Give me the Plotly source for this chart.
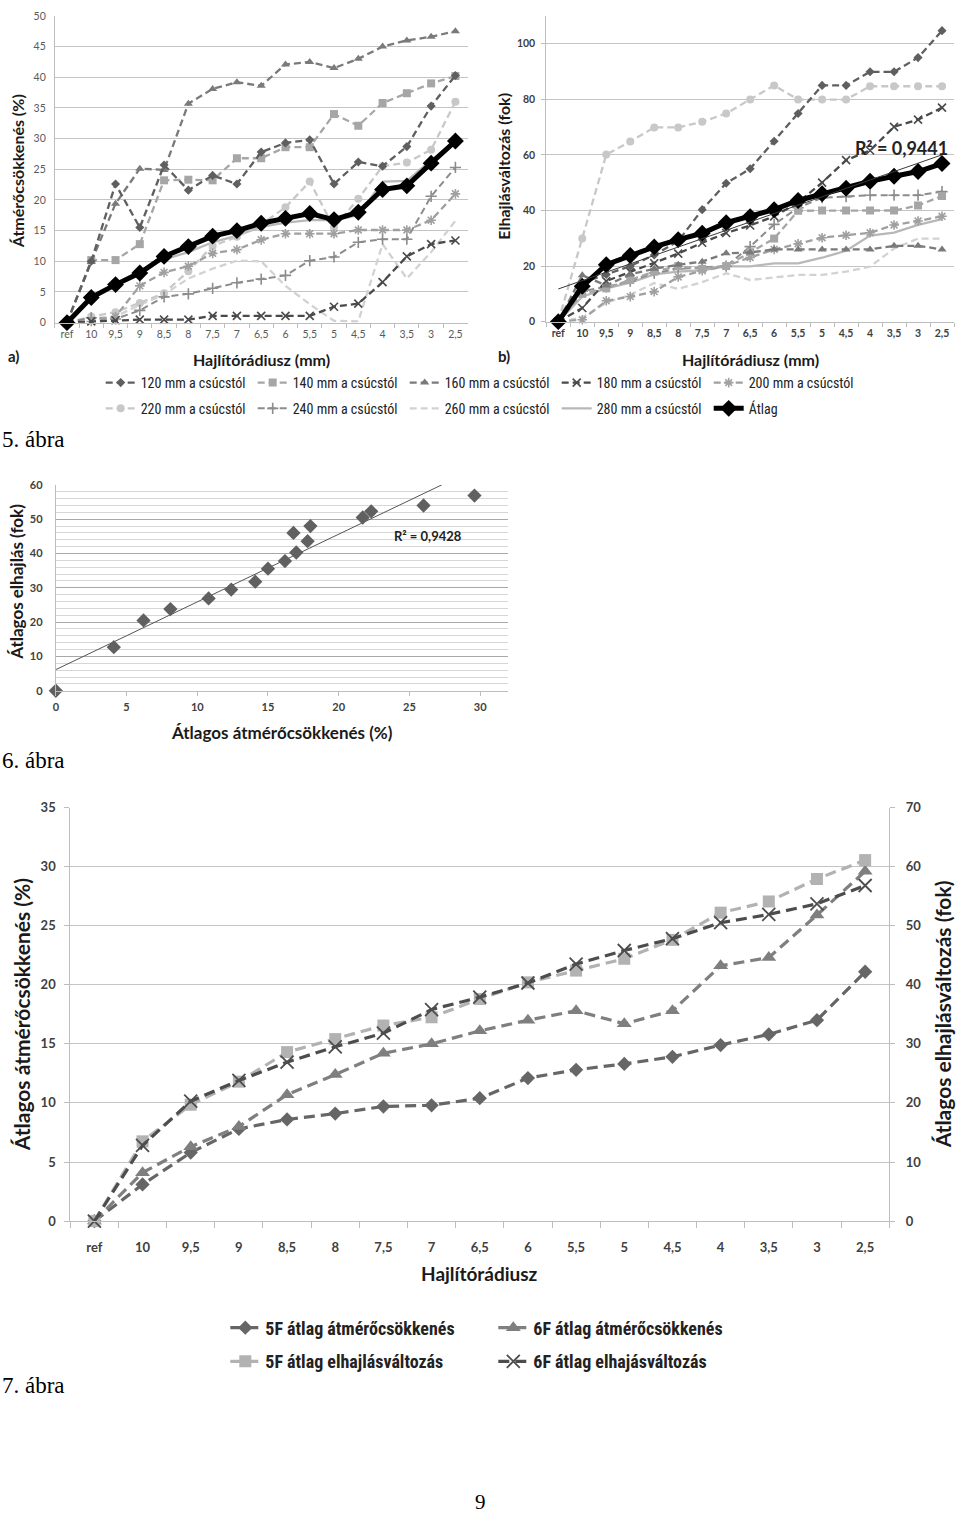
import numpy as np
import plotly.graph_objects as go

W, H = 960, 1521

def X(px):
    return px / W

def Y(py):
    return 1 - py / H

# ---------------- data ----------------
cats = ["ref", "10", "9,5", "9", "8,5", "8", "7,5", "7", "6,5", "6",
        "5,5", "5", "4,5", "4", "3,5", "3", "2,5"]

series_names = ["120 mm a csúcstól", "140 mm a csúcstól", "160 mm a csúcstól",
                "180 mm a csúcstól", "200 mm a csúcstól", "220 mm a csúcstól",
                "240 mm a csúcstól", "260 mm a csúcstól", "280 mm a csúcstól", "Átlag"]

# 5a) diameter reduction (%)
a_120 = [0, 10.0, 22.6, 15.5, 25.7, 21.6, 24.0, 22.6, 27.8, 29.3, 29.8, 22.6, 26.2, 25.5, 28.7, 35.3, 40.3]
a_140 = [0, 10.2, 10.2, 12.8, 23.2, 23.3, 23.2, 26.8, 26.8, 28.6, 28.6, 34.0, 32.1, 35.8, 37.4, 39.0, 40.2]
a_160 = [0, 9.9, 19.4, 25.1, 24.9, 35.7, 38.1, 39.2, 38.6, 42.1, 42.5, 41.5, 43.0, 45.0, 46.0, 46.6, 47.5]
a_180 = [0, 0.2, 0.4, 0.5, 0.5, 0.5, 1.1, 1.1, 1.1, 1.1, 1.1, 2.6, 3.1, 6.6, 10.8, 12.8, 13.4]
a_200 = [0, 0.2, 1.0, 6.0, 8.2, 9.2, 11.3, 11.9, 13.5, 14.5, 14.5, 14.5, 15.1, 15.1, 15.1, 16.7, 21.0]
a_220 = [0, 1.0, 1.7, 3.2, 4.8, 8.4, 12.5, 14.0, 16.0, 18.8, 23.0, 15.5, 20.2, 25.5, 26.1, 28.2, 36.0]
a_240 = [0, 0.8, 0.6, 2.0, 4.2, 4.7, 5.6, 6.5, 7.1, 7.7, 10.1, 10.7, 13.1, 13.6, 13.6, 20.6, 25.3]
a_260 = [0, 0.7, 1.0, 2.9, 4.6, 7.2, 8.8, 10.1, 10.0, 6.0, 3.0, 0.3, 0.2, 12.8, 7.2, 11.5, 16.6]
a_280 = [0, 4.0, 6.3, 8.5, 10.3, 11.5, 13.1, 14.2, 15.6, 16.3, 16.7, 16.7, 17.5, 23.0, 23.1, 26.5, 29.5]
a_avg = [0, 4.1, 6.2, 8.1, 10.8, 12.4, 14.1, 15.0, 16.2, 17.0, 17.8, 16.8, 18.0, 21.7, 22.3, 26.0, 29.6]

# 5b) deflection change (fok)
b_120 = [0, 14, 17, 20, 24, 29, 40.3, 49.8, 55.0, 64.9, 74.9, 85.0, 85.0, 89.9, 89.9, 95.0, 104.7]
b_140 = [0, 10, 12, 15, 18, 20, 19, 20, 25, 29.9, 39.9, 40, 40, 40, 40, 41.8, 45.2]
b_160 = [0, 16.7, 13, 17, 19, 20.5, 21.6, 24.6, 24.9, 26, 26, 26, 26, 26, 27.3, 27.3, 26]
b_180 = [0, 4.9, 14.6, 17.9, 21, 24.5, 28.4, 31.9, 34.6, 37.9, 42.9, 50.0, 58.1, 61.6, 70.1, 72.7, 77.0]
b_200 = [0, 0.7, 7.5, 9.0, 10.8, 16.1, 18.3, 20.1, 23.1, 26.0, 28.0, 30.2, 31.1, 32.0, 34.8, 36.2, 37.9]
b_220 = [0, 29.9, 60.1, 64.8, 69.9, 69.9, 71.9, 74.9, 79.9, 85.0, 79.9, 79.9, 79.9, 84.7, 84.7, 84.7, 84.7]
b_240 = [0, 11, 12.5, 14.6, 17.5, 19, 19.5, 20, 27, 35, 41, 44.6, 45, 45.5, 45.5, 45.5, 46.8]
b_260 = [0, 1.5, 6.8, 9.7, 13.9, 11.8, 14.2, 17.4, 15.0, 15.9, 16.8, 16.8, 18.0, 19.8, 26.3, 29.9, 29.9]
b_280 = [0, 9, 12, 14, 17, 18, 18.5, 19.9, 19.9, 21, 21, 23, 25.5, 31, 32, 34.8, 36.9]
b_avg = [0, 12.7, 20.5, 23.8, 26.9, 29.5, 31.8, 35.6, 37.8, 40.3, 43.6, 46.0, 48.0, 50.5, 52.3, 54.0, 56.9]

r2_5b = "R² = 0,9441"
r2_6 = "R² = 0,9428"

# 7) averages
c_5f_atm = [0, 3.1, 5.8, 7.8, 8.6, 9.1, 9.7, 9.8, 10.4, 12.1, 12.8, 13.3, 13.9, 14.9, 15.8, 17.0, 21.1]
c_6f_atm = [0, 4.1, 6.3, 8.0, 10.7, 12.4, 14.2, 15.0, 16.1, 17.0, 17.8, 16.7, 17.8, 21.6, 22.3, 25.9, 29.6]
c_5f_elh = [0, 13.5, 19.7, 23.6, 28.6, 30.8, 33.1, 34.5, 37.6, 40.4, 42.4, 44.4, 47.6, 52.2, 54.1, 57.9, 61.1]
c_6f_elh = [0, 12.8, 20.3, 23.8, 26.9, 29.5, 31.8, 35.8, 37.9, 40.3, 43.5, 45.8, 47.8, 50.5, 51.9, 53.7, 56.8]
c_names = ["5F átlag átmérőcsökkenés", "6F átlag átmérőcsökkenés",
           "5F átlag elhajlásváltozás", "6F átlag elhajásváltozás"]

# ---------------- styles ----------------
FONT = "Lato, 'Open Sans', sans-serif"
NARROW = "'Liberation Sans Narrow', 'Roboto Condensed', Lato, sans-serif"
SERIF = "'Liberation Serif', 'DejaVu Serif', serif"

styles5 = [  # color, symbol, size, dash, width
    ("#5f5f5f", "diamond", 7, "7px,4px", 2.3),
    ("#a6a6a6", "square", 8, "7px,4px", 2.3),
    ("#7a7a7a", "triangle-up", 8, "7px,4px", 2.3),
    ("#4a4a4a", "x-thin-open", 8, "7px,4px", 2.3),
    ("#a0a0a0", "asterisk-open", 8, "7px,4px", 2.3),
    ("#c8c8c8", "circle", 8, "7px,4px", 2.3),
    ("#8c8c8c", "cross-thin-open", 8, "7px,4px", 2.0),
    ("#d2d2d2", None, 0, "7px,4px", 2.3),
    ("#b8b8b8", None, 0, "solid", 2.3),
    ("#000000", "diamond", 13, "solid", 5),
]

fig = go.Figure()

a_data = [a_120, a_140, a_160, a_180, a_200, a_220, a_240, a_260, a_280, a_avg]
b_data = [b_120, b_140, b_160, b_180, b_200, b_220, b_240, b_260, b_280, b_avg]


def add_series(vals, xa, ya, i, showlegend):
    color, sym, size, dash, lw = styles5[i]
    mode = "lines+markers" if sym else "lines"
    marker = None
    if sym:
        marker = dict(symbol=sym, size=size, color=color,
                      line=dict(color=color, width=1.6 if "open" in sym else 0))
    fig.add_trace(go.Scatter(
        x=cats, y=vals, xaxis=xa, yaxis=ya, mode=mode, name=series_names[i],
        line=dict(color=color, width=lw, dash=dash), marker=marker,
        showlegend=showlegend, legend="legend" if i < 5 else "legend2",
        legendrank=i, cliponaxis=False))


order = [7, 8, 5, 6, 4, 3, 1, 2, 0, 9]
for i in order:
    add_series(a_data[i], "x", "y", i, True)
for i in order:
    add_series(b_data[i], "x2", "y2", i, False)

# trendline 5b (linear fit on category index 1..17)
idx = np.arange(1, len(cats) + 1)
k5, c5 = np.polyfit(idx, b_avg, 1)
fig.add_trace(go.Scatter(x=cats, y=k5 * idx + c5, xaxis="x2", yaxis="y2", mode="lines",
                         line=dict(color="#3a3a3a", width=1), showlegend=False,
                         hoverinfo="skip"))

# ---------------- figure 6 ----------------
k6, c6 = np.polyfit(a_avg, b_avg, 1)
xs6 = np.array([0, 32])
fig.add_trace(go.Scatter(x=xs6, y=k6 * xs6 + c6, xaxis="x3", yaxis="y3", mode="lines",
                         line=dict(color="#555555", width=1), showlegend=False,
                         hoverinfo="skip"))
fig.add_trace(go.Scatter(x=a_avg, y=b_avg, xaxis="x3", yaxis="y3", mode="markers",
                         marker=dict(symbol="diamond", size=11, color="#606060"),
                         showlegend=False, cliponaxis=False))

# ---------------- figure 7 ----------------
styles7 = [
    (c_5f_atm, "y4", "#666666", "diamond", 11, "legend3"),
    (c_6f_atm, "y4", "#7f7f7f", "triangle-up", 13, "legend3"),
    (c_5f_elh, "y5", "#b2b2b2", "square", 12, "legend4"),
    (c_6f_elh, "y5", "#4d4d4d", "x-thin-open", 13, "legend4"),
]
for j, (vals, ya, color, sym, size, leg) in enumerate(styles7):
    fig.add_trace(go.Scatter(
        x=cats, y=vals, xaxis="x4", yaxis=ya, mode="lines+markers", name=c_names[j],
        line=dict(color=color, width=3.2, dash="11px,6px"),
        marker=dict(symbol=sym, size=size, color=color,
                    line=dict(color=color, width=1.8 if "open" in sym else 0)),
        legend=leg, cliponaxis=False))

# ---------------- axes ----------------
grid = "#c4c4c4"
axl = "#bdbdbd"
tick_small = dict(family=FONT, size=10.5, color="#5a5a5a")
tick_bold = dict(family=FONT, size=10.5, color="#404040", weight="bold")
tick7 = dict(family=FONT, size=13, color="#404040", weight="bold")

cat_x = dict(type="category", categoryorder="array", categoryarray=cats,
             range=[-0.5, len(cats) - 0.5], showgrid=False, showline=True, linecolor=axl,
             ticks="outside", tickson="boundaries", ticklen=4, tickcolor=axl,
             tickangle=0, zeroline=False, fixedrange=True)

layout = dict(
    width=W, height=H, margin=dict(l=0, r=0, t=0, b=0),
    paper_bgcolor="white", plot_bgcolor="white",
    font=dict(family=FONT, color="#333333"),
    hovermode=False,
    xaxis=dict(cat_x, domain=[X(52), X(466)], anchor="y", tickfont=tick_small,
               ticklabelstandoff=2),
    yaxis=dict(domain=[Y(318), Y(8)], anchor="x", range=[0, 50], dtick=5,
               gridcolor=grid, showline=True, linecolor=axl, zeroline=False,
               tickfont=tick_small, ticklabelstandoff=6),
    xaxis2=dict(cat_x, domain=[X(545), X(954)], anchor="y2", tickfont=tick_bold,
                ticklabelstandoff=2),
    yaxis2=dict(domain=[Y(317), Y(8)], anchor="x2", range=[0, 110], dtick=20,
                gridcolor=grid, showline=True, linecolor=axl, zeroline=False,
                tickfont=tick_bold, ticks="outside", ticklen=4, tickcolor=axl,
                ticklabelstandoff=4),
    xaxis3=dict(domain=[X(53), X(507)], anchor="y3", range=[0, 32], dtick=5,
                showgrid=False, showline=True, linecolor=axl, zeroline=False,
                ticks="outside", ticklen=4, tickcolor=axl, ticklabelstandoff=2,
                tickfont=dict(family=FONT, size=11, color="#404040", weight="bold")),
    yaxis3=dict(domain=[Y(690), Y(482)], anchor="x3", range=[0, 60], dtick=10,
                gridcolor="#a8a8a8", showline=True, linecolor=axl, zeroline=False,
                minor=dict(dtick=2, showgrid=True, gridcolor="#d6d6d6"),
                ticklabelstandoff=10,
                tickfont=dict(family=FONT, size=11, color="#404040", weight="bold")),
    xaxis4=dict(cat_x, domain=[X(67.5), X(889)], anchor="y4", ticklen=6,
                ticklabelstandoff=14, tickfont=tick7),
    yaxis4=dict(domain=[Y(1226), Y(808)], anchor="x4", range=[0, 35], dtick=5,
                gridcolor=grid, showline=True, linecolor=axl, zeroline=False,
                ticks="outside", ticklen=5, tickcolor=axl, ticklabelstandoff=6,
                tickfont=tick7),
    yaxis5=dict(overlaying="y4", anchor="x4", side="right", range=[0, 70], dtick=10,
                showgrid=False, showline=True, linecolor=axl, zeroline=False,
                ticks="outside", ticklen=5, tickcolor=axl, ticklabelstandoff=8,
                tickfont=tick7),
)

leg_common = dict(orientation="h", xanchor="left", yanchor="middle",
                  entrywidthmode="pixels", bgcolor="rgba(0,0,0,0)",
                  itemwidth=30, tracegroupgap=0, traceorder="normal")
layout["legend"] = dict(leg_common, x=X(98), y=Y(379), entrywidth=107,
                        font=dict(family=NARROW, size=14, color="#222"))
layout["legend2"] = dict(leg_common, x=X(98), y=Y(405), entrywidth=107,
                         font=dict(family=NARROW, size=14, color="#222"))
layout["legend3"] = dict(leg_common, x=X(223), y=Y(1334), entrywidth=223,
                         font=dict(family=NARROW, size=18, color="#222", weight="bold"))
layout["legend4"] = dict(leg_common, x=X(223), y=Y(1368), entrywidth=223,
                         font=dict(family=NARROW, size=18, color="#222", weight="bold"))

fig.update_layout(**layout)


def ann(text, px, py, size, bold=True, angle=0, xanchor="center", family=FONT,
        color="#1a1a1a"):
    fig.add_annotation(text=text, x=X(px), y=Y(py), xref="paper", yref="paper",
                       showarrow=False, textangle=angle, xanchor=xanchor,
                       yanchor="middle",
                       font=dict(family=family, size=size, color=color,
                                 weight="bold" if bold else "normal"))


# figure 5 texts
ann("Átmérőcsökkenés (%)", 14, 165, 16, angle=-90)
ann("Hajlítórádiusz (mm)", 259, 355, 16)
ann("a)", 3, 352, 15, xanchor="left")
ann("Elhajlásváltozás (fok)", 502, 160, 16, angle=-90)
ann("Hajlítórádiusz (mm)", 750, 355, 16)
ann("b)", 495, 352, 15, xanchor="left")
ann(r2_5b, 901, 141, 18, color="#222222")
ann("5. ábra", -3, 436, 23, bold=False, xanchor="left", family=SERIF, color="#000")

# figure 6 texts
ann("Átlagos elhajlás (fok)", 14, 580, 17, angle=-90)
ann("Átlagos átmérőcsökkenés (%)", 280, 732, 17)
ann(r2_6, 426, 534, 13, color="#222222")
ann("6. ábra", -3, 760, 23, bold=False, xanchor="left", family=SERIF, color="#000")

# figure 7 texts
ann("Átlagos átmérőcsökkenés (%)", 18, 1017, 21, angle=-90)
ann("Átlagos elhajlásváltozás (fok)", 942, 1017, 21, angle=-90)
ann("Hajlítórádiusz", 478, 1279, 19)
ann("7. ábra", -3, 1392, 23, bold=False, xanchor="left", family=SERIF, color="#000")
ann("9", 479, 1510, 21, bold=False, family=SERIF, color="#000")

fig.write_html("out.html", config={"displayModeBar": False},
               post_script="document.body.style.margin='0';")
